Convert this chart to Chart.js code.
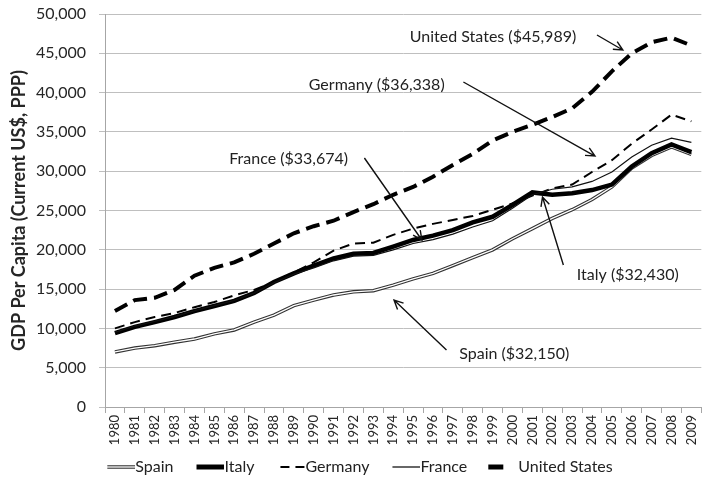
<!DOCTYPE html>
<html>
<head>
<meta charset="utf-8">
<script src="https://cdn.jsdelivr.net/npm/chart.js@4/dist/chart.umd.min.js"></script>
<style>
  html, body { margin: 0; padding: 0; background: #fff; }
</style>
</head>
<body>
<canvas id="chart" width="709" height="485"></canvas>
<script>
// GDP per capita, current US$ PPP, 1980-2009
const years = ["1980","1981","1982","1983","1984","1985","1986","1987","1988","1989",
  "1990","1991","1992","1993","1994","1995","1996","1997","1998","1999",
  "2000","2001","2002","2003","2004","2005","2006","2007","2008","2009"];

const spain = [7000, 7500, 7800, 8250, 8650, 9300, 9800, 10800, 11700, 12900,
  13600, 14250, 14650, 14800, 15500, 16300, 17000, 18000, 19000, 20000,
  21400, 22700, 24000, 25100, 26400, 28000, 30400, 32000, 33100, 32150];

const italy = [9400, 10200, 10800, 11450, 12200, 12850, 13500, 14500, 15900, 17000,
  18000, 18900, 19500, 19600, 20400, 21250, 21800, 22500, 23500, 24200,
  25700, 27300, 27000, 27200, 27600, 28300, 30600, 32300, 33400, 32430];

const germany = [10000, 10800, 11450, 11950, 12700, 13350, 14200, 14900, 15900, 17100,
  18400, 19900, 20800, 20900, 21900, 22700, 23300, 23800, 24300, 25100,
  25900, 26900, 27800, 28300, 29900, 31400, 33500, 35300, 37200, 36338];

const france = [9500, 10300, 10900, 11500, 12250, 12900, 13550, 14500, 15800, 16900,
  17700, 18600, 19200, 19300, 20000, 20800, 21300, 22000, 22900, 23700,
  25300, 27000, 27700, 28000, 28700, 29900, 31800, 33300, 34200, 33674];

const unitedStates = [12200, 13600, 13900, 14900, 16700, 17700, 18400, 19500, 20800, 22100,
  23000, 23700, 24800, 25800, 27000, 28000, 29300, 30800, 32200, 33900,
  35000, 35900, 36900, 38000, 40100, 42700, 45000, 46400, 47000, 45989];

// callouts: label centre and arrow, in (category index, value) space
const callouts = [
  { text: "United States ($45,989)", at: [19.02, 47070], from: [24.25, 47330], to: [25.55, 45420] },
  { text: "Germany ($36,338)", at: [13.17, 40970], from: [17.53, 41350], to: [24.15, 31930] },
  { text: "France ($33,674)", at: [8.74, 31550], from: [12.55, 31680], to: [15.44, 21250] },
  { text: "Italy ($32,430)", at: [25.8, 16790], from: [22.56, 18070], to: [21.51, 26720] },
  { text: "Spain ($32,150)", at: [20.09, 6740], from: [16.68, 7250], to: [14.04, 13610] }
];

Chart.defaults.font.family = "Lato, 'Open Sans', sans-serif";
Chart.defaults.color = "#262626";

// little canvases used as legend samples
function sample(draw) {
  const c = document.createElement("canvas");
  c.width = 48;
  c.height = 12;
  const g = c.getContext("2d");
  g.strokeStyle = "#000";
  draw(g);
  return c;
}

const legendSamples = [
  sample(g => {
    g.strokeStyle = "#333"; g.lineWidth = 3.5;
    g.beginPath(); g.moveTo(20, 6); g.lineTo(48, 6); g.stroke();
    g.strokeStyle = "#fff"; g.lineWidth = 1.3;
    g.beginPath(); g.moveTo(20, 6); g.lineTo(48, 6); g.stroke();
  }),
  sample(g => {
    g.lineWidth = 5;
    g.beginPath(); g.moveTo(20, 6); g.lineTo(48, 6); g.stroke();
  }),
  sample(g => {
    g.lineWidth = 2; g.setLineDash([9, 6]); g.lineDashOffset = -3;
    g.beginPath(); g.moveTo(20, 6); g.lineTo(48, 6); g.stroke();
  }),
  sample(g => {
    g.lineWidth = 1.2;
    g.beginPath(); g.moveTo(20, 6); g.lineTo(48, 6); g.stroke();
  }),
  sample(g => {
    g.lineWidth = 5;
    g.beginPath(); g.moveTo(18, 6); g.lineTo(33, 6); g.stroke();
  })
];

// Spain is a double line: stroke a white core over it
const doubleLine = {
  id: "doubleLine",
  afterDatasetDraw(chart, args) {
    if (args.index !== 0) return;
    const pts = args.meta.data;
    const c = chart.ctx;
    c.save();
    c.beginPath();
    pts.forEach((p, i) => (i ? c.lineTo(p.x, p.y) : c.moveTo(p.x, p.y)));
    c.strokeStyle = "#fff";
    c.lineWidth = 1.3;
    c.lineJoin = "round";
    c.stroke();
    c.restore();
  }
};

const calloutPlugin = {
  id: "callouts",
  afterDatasetsDraw(chart) {
    const c = chart.ctx;
    const xs = chart.scales.x;
    const ys = chart.scales.y;
    c.save();
    c.font = "16px Lato, 'Open Sans', sans-serif";
    c.fillStyle = "#222";
    c.strokeStyle = "#111";
    c.lineWidth = 1.4;
    c.textAlign = "center";
    c.textBaseline = "middle";
    callouts.forEach(n => {
      c.fillText(n.text, xs.getPixelForValue(n.at[0]), ys.getPixelForValue(n.at[1]));
      const x1 = xs.getPixelForValue(n.from[0]), y1 = ys.getPixelForValue(n.from[1]);
      const x2 = xs.getPixelForValue(n.to[0]), y2 = ys.getPixelForValue(n.to[1]);
      const a = Math.atan2(y2 - y1, x2 - x1);
      c.beginPath();
      c.moveTo(x1, y1);
      c.lineTo(x2, y2);
      c.moveTo(x2 - 10 * Math.cos(a - 0.45), y2 - 10 * Math.sin(a - 0.45));
      c.lineTo(x2, y2);
      c.lineTo(x2 - 10 * Math.cos(a + 0.45), y2 - 10 * Math.sin(a + 0.45));
      c.stroke();
    });
    c.restore();
  }
};

const ctx = document.getElementById("chart").getContext("2d");

const myChart = new Chart(ctx, {
  type: "line",
  data: {
    labels: years,
    datasets: [
      { label: "Spain", data: spain, borderColor: "#333", borderWidth: 3.5, order: 5 },
      { label: "Italy", data: italy, borderColor: "#000", borderWidth: 4.5, order: 4 },
      { label: "Germany", data: germany, borderColor: "#000", borderWidth: 2, borderDash: [10, 6], order: 3 },
      { label: "France", data: france, borderColor: "#111", borderWidth: 1.2, order: 2 },
      { label: "United States", data: unitedStates, borderColor: "#000", borderWidth: 4, borderDash: [14, 7], order: 1 }
    ]
  },
  options: {
    responsive: false,
    animation: false,
    devicePixelRatio: 1,
    elements: {
      point: { radius: 0, hoverRadius: 0 },
      line: { tension: 0, fill: false }
    },
    layout: { padding: { top: 14, right: 1, bottom: 0, left: 0 } },
    scales: {
      x: {
        offset: true,
        grid: { offset: true, drawOnChartArea: false, color: "#a6a6a6", tickLength: 6 },
        border: { color: "#a6a6a6" },
        ticks: { font: { size: 13 }, minRotation: 90, maxRotation: 90, autoSkip: false, padding: 2 },
        afterFit(scale) { scale.height = 41; }
      },
      y: {
        min: 0,
        max: 50000,
        ticks: {
          stepSize: 5000,
          font: { size: 16 },
          padding: 13,
          callback: v => v.toLocaleString("en-US")
        },
        grid: { color: "#bfbfbf", tickLength: 6 },
        border: { color: "#a6a6a6" },
        title: {
          display: true,
          text: "GDP Per Capita (Current US$, PPP)",
          font: { size: 18, weight: "bold" },
          padding: { top: 8, bottom: 0 }
        },
        afterFit(scale) {
          scale.width = 105;
          scale.paddingTop = 0;
          scale.paddingBottom = 0;
        }
      }
    },
    plugins: {
      legend: {
        position: "bottom",
        labels: {
          usePointStyle: true,
          pointStyleWidth: 32,
          boxHeight: 12,
          padding: 11,
          color: "#222",
          font: { size: 16 },
          sort: (a, b) => a.datasetIndex - b.datasetIndex,
          generateLabels(chart) {
            const items = Chart.defaults.plugins.legend.labels.generateLabels(chart);
            items.forEach(it => { it.pointStyle = legendSamples[it.datasetIndex]; });
            return items;
          }
        }
      },
      tooltip: { enabled: false }
    }
  },
  plugins: [doubleLine, calloutPlugin]
});
</script>
</body>
</html>
